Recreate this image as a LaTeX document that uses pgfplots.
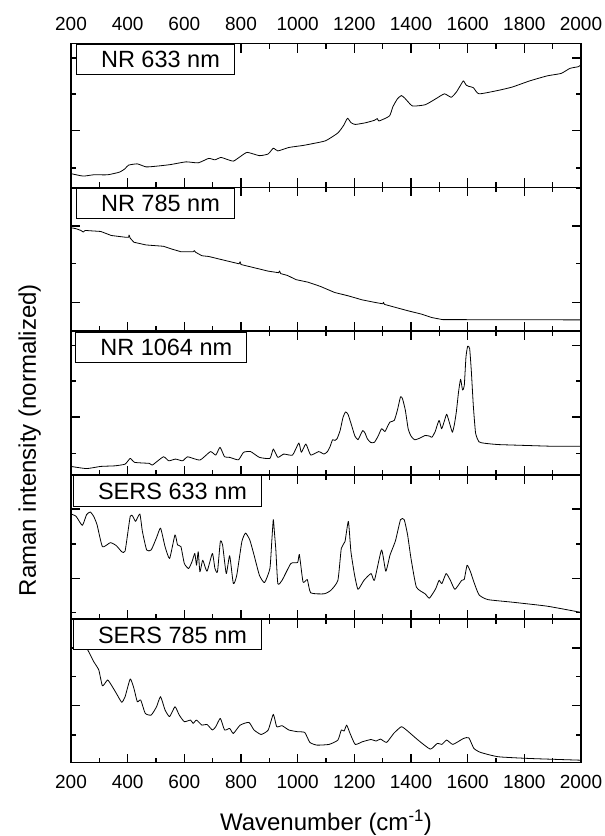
\documentclass[border=0pt]{standalone}
\usepackage{fontspec}
\setmainfont{Liberation Sans}
\usepackage{pgfplots}
\pgfplotsset{compat=1.18}

\pgfplotsset{
  panel/.style={
    width=510pt, height=143.8pt, scale only axis,
    xmin=200, xmax=2000, ymin=0, ymax=1,
    xtick={200,400,...,2000}, minor x tick num=1,
    tick align=inside, xtick pos=both, ytick pos=both,
    yticklabels={},
    major tick length=9pt, minor tick length=5pt,
    axis line style={line width=1.6pt},
    tick style={black, line width=1.4pt},
    /pgf/number format/assume math mode=true,
    /pgf/number format/set thousands separator={},
    ticklabel style={font=\fontsize{19}{22}\selectfont},
    clip=true,
  },
  spec/.style={black, line width=0.8pt, line join=round, smooth, tension=0.3},
}
\tikzset{
  lbl/.style={draw=black, line width=0.7pt, fill=white, anchor=north west,
    font=\fontsize{23.5}{28}\selectfont, inner xsep=0pt, inner ysep=6.6pt,
    text height=16.9pt, text depth=0pt,
    execute at begin node=\hspace*{25pt}, execute at end node=\hspace*{14pt}},
}

\begin{document}
\begin{tikzpicture}

% NR 633 nm
\begin{axis}[panel, at={(0pt,0pt)}, anchor=north west,
  xticklabel pos=upper, xticklabel style={yshift=9pt},
  ytick={0.898,0.395}, minor ytick={0.650,0.135}]
\addplot[spec] coordinates {
(200,0.095) (243,0.078) (280,0.087) (329,0.087) (372,0.106) (391,0.130) (403,0.154)
(434,0.163) (465,0.142) (502,0.147) (551,0.158) (606,0.177) (649,0.170) (686,0.201)
(708,0.191) (729,0.208) (748,0.196) (773,0.182) (797,0.213) (822,0.243) (865,0.220)
(896,0.232) (914,0.272) (930,0.253) (969,0.277) (1019,0.291) (1056,0.305) (1099,0.324)
(1142,0.378) (1162,0.43) (1176,0.480) (1188,0.45) (1203,0.437) (1240,0.449) (1271,0.466)
(1281,0.478) (1287,0.461) (1324,0.496) (1336,0.560) (1352,0.615) (1366,0.638) (1378,0.62)
(1388,0.598) (1406,0.565) (1450,0.574) (1487,0.615) (1518,0.650) (1542,0.626) (1560,0.662)
(1575,0.71) (1585,0.740) (1595,0.71) (1604,0.702) (1620,0.693) (1640,0.650)
(1708,0.674) (1757,0.697) (1819,0.740) (1881,0.775) (1930,0.792) (1961,0.827) (1991,0.839)
(2000,0.853)};
\node[lbl] at (rel axis cs:0,1) [xshift=4.7pt, yshift=-0.5pt] {NR 633 nm};
\end{axis}

% NR 785 nm
\begin{axis}[panel, at={(0pt,-143.8pt)}, anchor=north west, xticklabels={},
  ytick={0.731,0.200}, minor ytick={0.469,0.99}]
\addplot[black, line width=0.8pt, line join=round] coordinates {
(200,0.719) (218,0.712) (235,0.700) (243,0.689) (250,0.700) (305,0.693) (342,0.665) (391,0.653)
(403,0.652) (405,0.668) (409,0.646) (422,0.618) (465,0.599) (526,0.590) (560,0.568) (588,0.552)
(631,0.552) (635,0.560) (640,0.548) (662,0.524) (686,0.519) (736,0.495) (793,0.468)
(797,0.482) (800,0.463) (846,0.441) (896,0.417) (933,0.406) (936,0.418) (940,0.400)
(964,0.387) (994,0.358) (1037,0.340) (1080,0.311) (1130,0.269) (1179,0.245) (1228,0.217)
(1277,0.198) (1300,0.190) (1303,0.200) (1306,0.186) (1345,0.165) (1388,0.142)
(1437,0.118) (1474,0.094) (1511,0.080) (2000,0.078)};
\node[lbl] at (rel axis cs:0,1) [xshift=4.7pt, yshift=-0.5pt] {NR 785 nm};
\end{axis}

% NR 1064 nm
\begin{axis}[panel, at={(0pt,-287.6pt)}, anchor=north west, xticklabels={},
  ytick={0.90,0.403}, minor ytick={0.653,0.15}]
\addplot[spec] coordinates {
(200,0.059) (255,0.044) (305,0.059) (354,0.063) (391,0.075) (409,0.115) (425,0.087)
(477,0.080) (487,0.068) (526,0.126) (545,0.098) (569,0.110) (594,0.098) (612,0.126)
(655,0.103) (692,0.162) (711,0.138) (726,0.192) (742,0.126) (760,0.122) (791,0.105)
(809,0.157) (834,0.162) (865,0.122) (902,0.115) (914,0.180) (930,0.122) (951,0.145)
(982,0.138) (1004,0.222) (1013,0.157) (1029,0.215) (1046,0.138) (1074,0.162) (1093,0.145)
(1105,0.162) (1115,0.20) (1123,0.244) (1132,0.240) (1139,0.251) (1150,0.31) (1160,0.40)
(1169,0.438) (1178,0.42) (1191,0.34) (1202,0.27) (1213,0.245) (1222,0.28) (1230,0.309)
(1238,0.29) (1246,0.251) (1258,0.225) (1271,0.227) (1284,0.27) (1296,0.321) (1308,0.302)
(1318,0.34) (1326,0.368) (1341,0.379) (1352,0.45) (1363,0.543) (1370,0.53) (1380,0.45)
(1390,0.321) (1400,0.27) (1413,0.244) (1430,0.255) (1450,0.274) (1465,0.27) (1474,0.262)
(1485,0.30) (1499,0.379) (1508,0.321) (1517,0.37) (1526,0.422) (1536,0.36) (1546,0.297)
(1553,0.35) (1560,0.438) (1568,0.58) (1575,0.665) (1582,0.59) (1588,0.62) (1594,0.82)
(1600,0.895) (1607,0.878) (1613,0.72) (1620,0.48) (1628,0.29) (1640,0.23) (1660,0.22)
(1708,0.211) (1819,0.204) (1905,0.199) (2000,0.199)};
\node[lbl] at (rel axis cs:0,1) [xshift=4pt, yshift=-0.5pt] {NR 1064 nm};
\end{axis}

% SERS 633 nm
\begin{axis}[panel, at={(0pt,-431.4pt)}, anchor=north west, xticklabels={},
  ytick={0.763,0.279}, minor ytick={0.520,0.044}]
\addplot[spec] coordinates {
(200,0.728) (218,0.712) (240,0.649) (255,0.724) (268,0.742) (280,0.712) (292,0.653)
(311,0.501) (339,0.529) (360,0.508) (379,0.466) (391,0.471) (409,0.712) (418,0.712)
(428,0.677) (443,0.728) (452,0.607) (467,0.478) (483,0.478) (502,0.564) (516,0.630)
(532,0.501) (548,0.419) (567,0.583) (576,0.513) (588,0.501) (600,0.384) (615,0.349)
(627,0.396) (637,0.454) (643,0.372) (649,0.466) (655,0.326) (665,0.407) (680,0.330)
(699,0.454) (708,0.349) (717,0.326) (727,0.536) (735,0.513) (748,0.314) (760,0.438)
(773,0.244) (785,0.302) (803,0.536) (816,0.595) (831,0.548) (846,0.443) (865,0.302)
(883,0.251) (902,0.349) (909,0.55) (914,0.689) (918,0.60) (923,0.478) (930,0.244)
(945,0.267) (976,0.384) (1000,0.391) (1006,0.447) (1019,0.255) (1034,0.272) (1046,0.180)
(1093,0.173) (1117,0.197) (1142,0.267) (1154,0.489) (1167,0.536) (1179,0.677) (1188,0.466)
(1201,0.302) (1213,0.204) (1234,0.267) (1259,0.314) (1271,0.267) (1296,0.478) (1311,0.330)
(1326,0.443) (1345,0.541) (1363,0.689) (1376,0.689) (1388,0.583) (1400,0.419) (1419,0.220)
(1450,0.173) (1465,0.143) (1487,0.208) (1499,0.267) (1509,0.244) (1524,0.314) (1539,0.267)
(1555,0.204) (1579,0.267) (1588,0.274) (1598,0.372) (1610,0.326) (1622,0.255) (1640,0.166)
(1671,0.133) (1757,0.115) (1881,0.087) (2000,0.044)};
\node[lbl] at (rel axis cs:0,1) [xshift=1.7pt, yshift=-0.5pt] {SERS 633 nm};
\end{axis}

% SERS 785 nm
\begin{axis}[panel, at={(0pt,-575.2pt)}, anchor=north west,
  xticklabel style={yshift=-9.2pt},
  ytick={0.795,0.395}, minor ytick={0.598,0.191}]
\addplot[spec] coordinates {
(200,1.050) (231,0.888) (262,0.772) (280,0.702) (298,0.644) (311,0.533) (329,0.574)
(342,0.540) (360,0.481) (379,0.419) (391,0.458) (409,0.581) (422,0.516) (434,0.423)
(446,0.435) (462,0.342) (483,0.330) (502,0.388) (516,0.458) (532,0.365) (548,0.319)
(567,0.388) (582,0.330) (600,0.284) (622,0.295) (631,0.272) (643,0.295) (662,0.260)
(680,0.265) (699,0.226) (711,0.249) (727,0.307) (742,0.226) (760,0.237) (773,0.202)
(797,0.260) (828,0.279) (846,0.226) (871,0.195) (896,0.226) (914,0.335) (926,0.249)
(945,0.256) (969,0.226) (1000,0.214) (1025,0.209) (1043,0.140) (1068,0.121) (1111,0.126)
(1142,0.156) (1154,0.226) (1164,0.219) (1173,0.260) (1185,0.202) (1203,0.126) (1228,0.144)
(1259,0.160) (1277,0.149) (1292,0.163) (1314,0.140) (1339,0.202) (1366,0.249) (1388,0.219)
(1425,0.156) (1468,0.093) (1493,0.133) (1509,0.126) (1526,0.156) (1548,0.126) (1585,0.167)
(1604,0.172) (1622,0.098) (1646,0.070) (1708,0.040) (1819,0.028) (2000,0.016)};
\node[lbl] at (rel axis cs:0,1) [xshift=1.7pt, yshift=-0.5pt] {SERS 785 nm};
\end{axis}

\node[rotate=90, anchor=base, font=\fontsize{24}{29}\selectfont]
  at (-35pt,-396.5pt) {Raman intensity (normalized)};
\node[anchor=base, font=\fontsize{24}{29}\selectfont]
  at (255pt,-787pt) {Wavenumber (cm\textsuperscript{-1})};

\pgfresetboundingbox
\path[use as bounding box] (-71pt,43.5pt) rectangle (534pt,-792.5pt);
\end{tikzpicture}
\end{document}
